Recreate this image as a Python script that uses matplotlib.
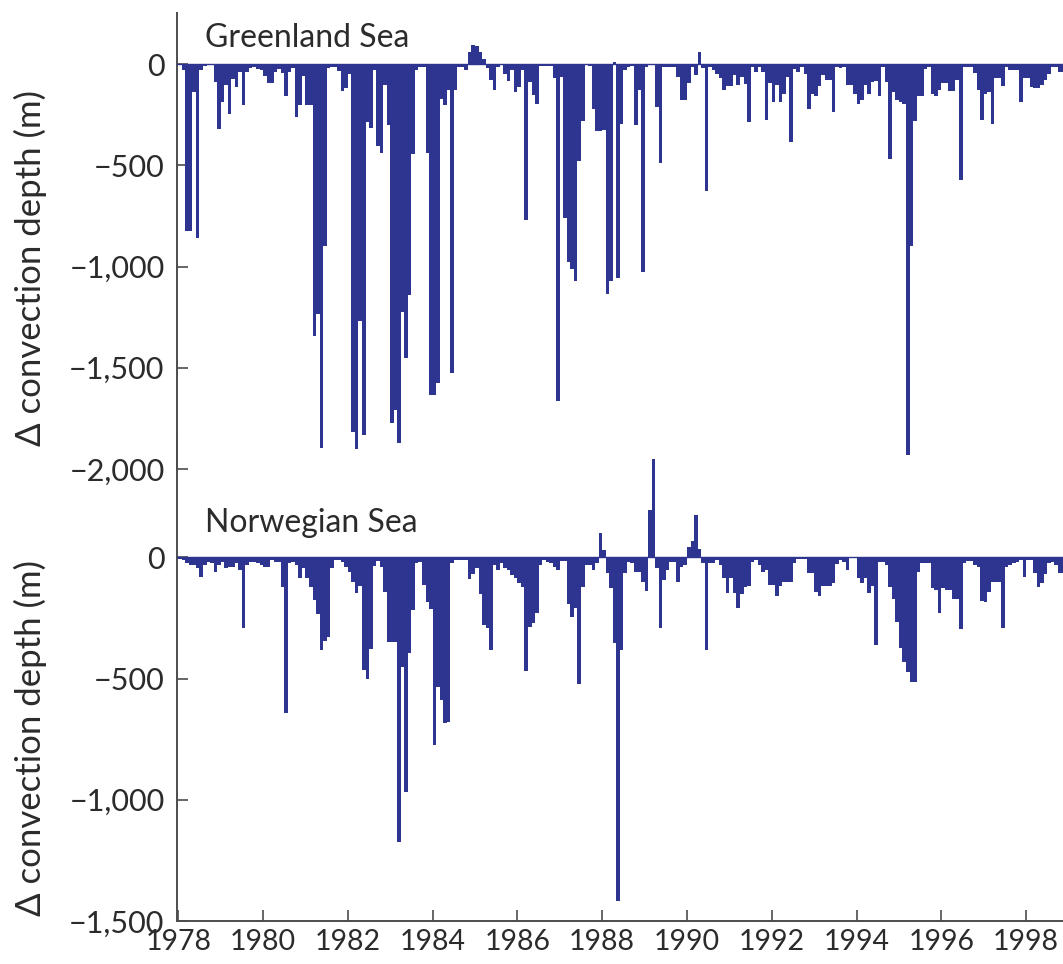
import numpy as np
import matplotlib.pyplot as plt
from matplotlib.ticker import FuncFormatter

# monthly change in convection depth (m), one value per month from Jan 1978
greenland = [
    -5, -30, -827, -827, -138, -860, -30, -10, -3, -3, -88, -320,                 # 1978
    -188, -105, -246, -75, -113, -40, -201, -40, -20, -15, -25, -30,              # 1979
    -60, -93, -93, -40, -25, -45, -160, -40, -20, -262, -204, -60,                # 1980
    -200, -200, -1342, -1234, -1898, -898, -20, -15, -15, -35, -133, -120,        # 1981
    -50, -1815, -1899, -1267, -1832, -287, -316, -30, -404, -437, -105, -300,     # 1982
    -1774, -1708, -1874, -1226, -1450, -1143, -445, -30, -15, -15, -437, -1633,   # 1983
    -1633, -1575, -171, -204, -130, -1525, -130, -15, -15, -30, 60, 95,           # 1984
    90, 60, 23, -20, -80, -126, -15, -3, -47, -85, -30, -138,                     # 1985
    -113, -30, -769, -88, -154, -199, -10, -8, -10, -10, -71, -1666,              # 1986
    -63, -761, -977, -1010, -1073, -478, -279, -5, -8, -221, -332, -332,          # 1987
    -326, -1135, -1073, 10, -1056, -296, -30, -15, -10, -301, -130, -1027,        # 1988
    -15, -3, 0, -213, -487, -13, -15, -15, -15, -63, -180, -176,                  # 1989
    -93, -13, -55, 57, -20, -628, -15, -30, -47, -71, -126, -110,                 # 1990
    -110, -55, -105, -63, -100, -284, -15, -38, -15, -40, -276, -93,              # 1991
    -188, -105, -188, -150, -63, -387, -27, -38, -15, -47, -221, -146,            # 1992
    -159, -110, -55, -80, -80, -238, -15, -20, -15, -105, -105, -146,             # 1993
    -196, -179, -105, -146, -88, -83, -159, -13, -88, -470, -138, -179,           # 1994
    -190, -199, -1932, -898, -279, -159, -159, -27, -15, -150, -159, -130,        # 1995
    -96, -96, -135, -135, -80, -573, -15, -15, -15, -43, -130, -276,              # 1996
    -146, -138, -296, -71, -71, -110, -15, -30, -30, -30, -188, -71,              # 1997
    -71, -113, -118, -118, -105, -80, -47, -15, -15, -38, -38,                    # 1998
]

norwegian = [
    -8, -11, -25, -32, -32, -45, -80, -32, -18, -25, -59, -32,                    # 1978
    -18, -45, -39, -39, -25, -52, -293, -32, -18, -18, -25, -32,                  # 1979
    -39, -39, -11, -18, -18, -121, -644, -25, -18, -32, -87, -45,                 # 1980
    -87, -121, -176, -234, -382, -345, -327, -45, -11, -11, -18, -40,             # 1981
    -59, -100, -148, -118, -465, -503, -380, -36, -15, -40, -142, -348,           # 1982
    -350, -350, -1173, -451, -967, -396, -217, -25, -18, -114, -183, -214,        # 1983
    -774, -536, -589, -685, -678, -25, -11, -11, -11, -11, -91, -70,              # 1984
    -45, -150, -279, -293, -382, -32, -52, -25, -45, -52, -73, -87,               # 1985
    -107, -121, -468, -286, -272, -231, -32, -11, -18, -25, -39, -52,             # 1986
    -15, -15, -193, -245, -210, -523, -121, -32, -32, -52, -25, 102,              # 1987
    30, -66, -128, -355, -1416, -382, -66, -18, -22, -59, -59, -100,              # 1988
    -138, 195, 404, -45, -290, -94, -52, -18, -18, -100, -41, -32,                # 1989
    44, 69, 175, 33, -22, -382, -25, -25, -11, -32, -87, -146,                    # 1990
    -87, -149, -210, -151, -121, -118, -18, -11, -32, -59, -52, -114,             # 1991
    -114, -160, -118, -100, -100, -100, -25, -8, -8, -8, -66, -66,                # 1992
    -142, -160, -118, -118, -118, -107, -27, -11, -18, -52, -3, -3,               # 1993
    -87, -107, -87, -146, -118, -362, -18, -18, -32, -124, -173, -265,            # 1994
    -375, -430, -472, -513, -513, -59, -22, -22, -22, -128, -135, -231,           # 1995
    -128, -135, -135, -173, -173, -297, -25, -14, -14, -32, -39, -179,            # 1996
    -183, -142, -100, -100, -100, -293, -39, -32, -25, -18, -11, -80,             # 1997
    -11, -11, -66, -124, -107, -69, -25, -18, -32, -63, -63,                      # 1998
]

year_ticks = list(range(1978, 1999, 2))
top_ticks = [0, -500, -1000, -1500, -2000]
bottom_ticks = [0, -500, -1000, -1500]

bar_color = '#2d3591'
text_color = '#2b2b2b'
spine_color = '#4d4d4d'

plt.rcParams['font.family'] = ['Lato', 'DejaVu Sans']


def depth_fmt(v, pos):
    v = int(round(v))
    s = f'{abs(v):,}'
    return '\u2212' + s if v < 0 else s


fig = plt.figure(figsize=(10.63, 9.64), dpi=100)
W, H = 1063, 964
left = 177 / W

# Greenland Sea panel (no x axis of its own)
ax1 = fig.add_axes([left, 1 - 469 / H, 1 - left, (469 - 13) / H])
# Norwegian Sea panel, carries the time axis
ax2 = fig.add_axes([left, 1 - 921 / H, 1 - left, (921 - 440) / H])

x_start = 1978
xlim = (1977.97, 1998.87)

for ax, vals, ylim, yt, name, ty in [
    (ax1, greenland, (-2000, 252), top_ticks, 'Greenland Sea', 0.925),
    (ax2, norwegian, (-1500, 484), bottom_ticks, 'Norwegian Sea', 0.808),
]:
    months = x_start + np.arange(len(vals)) / 12
    ax.bar(months, vals, width=1 / 12, align='edge', color=bar_color,
           linewidth=0, antialiased=False, zorder=2)
    ax.axhline(0, color=bar_color, lw=1.0, zorder=3)
    ax.set_xlim(*xlim)
    ax.set_ylim(*ylim)
    ax.set_yticks(yt)
    ax.yaxis.set_major_formatter(FuncFormatter(depth_fmt))
    ax.patch.set_alpha(0)
    for s in ['top', 'right']:
        ax.spines[s].set_visible(False)
    ax.spines['left'].set_color(spine_color)
    ax.spines['left'].set_linewidth(1.4)
    ax.tick_params(axis='y', direction='in', length=8, width=1.2,
                   color=spine_color, labelsize=22, labelcolor=text_color, pad=9)
    ax.text(0.032, ty, name, transform=ax.transAxes, fontsize=23,
            color=text_color, va='baseline', ha='left')

ax1.spines['bottom'].set_visible(False)
ax1.set_xticks([])

ax2.spines['bottom'].set_color(spine_color)
ax2.spines['bottom'].set_linewidth(1.4)
ax2.set_xticks(year_ticks)
ax2.tick_params(axis='x', direction='in', length=8, width=1.2,
                color=spine_color, labelsize=20.5, labelcolor=text_color, pad=6)

fig.text(30 / W, 1 - 268 / H, '\u0394 convection depth (m)', rotation=90,
         fontsize=25, color=text_color, ha='center', va='center')
fig.text(30 / W, 1 - 738 / H, '\u0394 convection depth (m)', rotation=90,
         fontsize=25, color=text_color, ha='center', va='center')

fig.savefig('out.png', dpi=100)
